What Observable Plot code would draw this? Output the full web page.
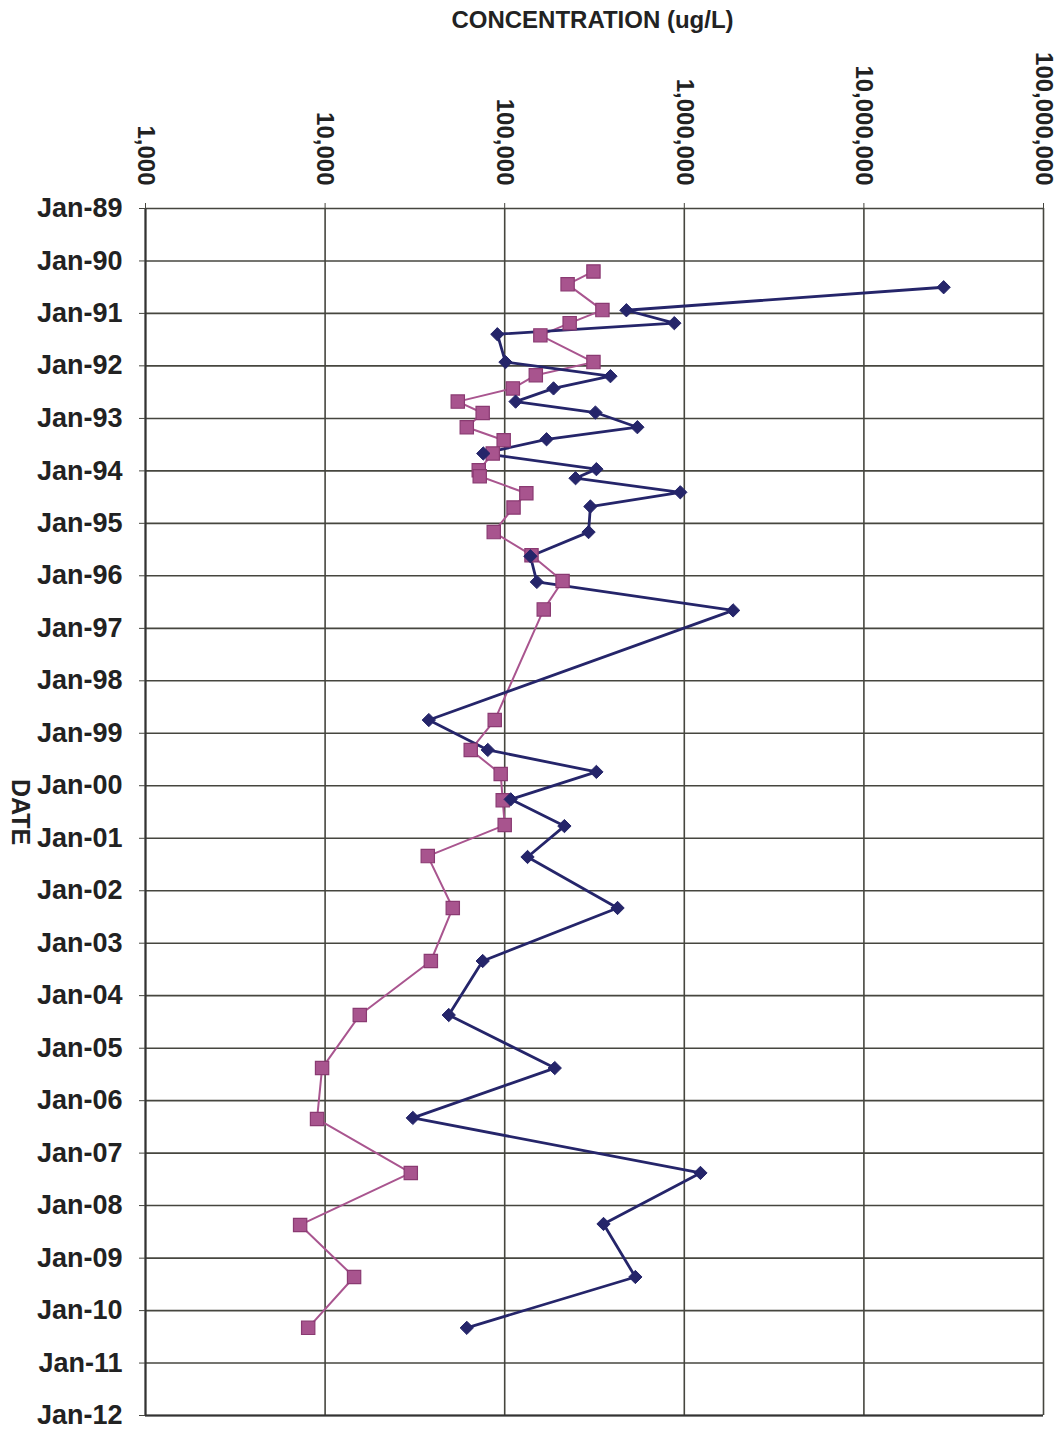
<!DOCTYPE html>
<html>
<head>
<meta charset="utf-8">
<script src="https://cdn.jsdelivr.net/npm/d3@7"></script>
<script src="https://cdn.jsdelivr.net/npm/@observablehq/plot@0.6"></script>
<style>
  html, body { margin: 0; padding: 0; background: #ffffff; }
  #chart svg { display: block; }
</style>
</head>
<body>
<div id="chart"></div>
<script>
// ---- Data ----
const xTicks = [1e3, 1e4, 1e5, 1e6, 1e7, 1e8];
const yTickYears = [1989,1990,1991,1992,1993,1994,1995,1996,1997,1998,1999,2000,2001,2002,2003,2004,2005,2006,2007,2008,2009,2010,2011,2012];

// Series 1 (navy, diamonds)
const navyDates = ["1990-07-03","1990-12-10","1991-03-10","1991-05-26","1991-12-06","1992-03-13","1992-06-06","1992-09-06","1992-11-21","1993-03-03","1993-05-26","1993-09-02","1993-12-20","1994-02-21","1994-05-30","1994-09-06","1995-03-03","1995-08-18","1996-02-13","1996-08-29","1998-10-01","1999-04-27","1999-09-27","2000-04-05","2000-10-08","2001-05-11","2002-05-01","2003-05-05","2004-05-15","2005-05-19","2006-05-01","2007-05-19","2008-05-08","2009-05-12","2010-05-01"];
const navyValues = [27800000,476000,880000,91000,101000,388000,187000,115000,320000,548000,171000,76000,324000,248000,950000,300000,293000,139000,151000,1870000,37800,80500,324000,108000,215000,134000,425000,75400,48800,190000,30800,1230000,355000,534000,61500];

// Series 2 (magenta, squares)
const pinkDates = ["1990-03-15","1990-06-13","1990-12-09","1991-03-10","1991-06-03","1991-12-06","1992-03-06","1992-06-06","1992-09-06","1992-11-24","1993-03-03","1993-06-02","1993-09-02","1993-12-28","1994-02-07","1994-06-06","1994-09-13","1995-03-03","1995-08-11","1996-02-06","1996-08-22","1998-10-01","1999-04-27","1999-10-12","2000-04-12","2000-10-01","2001-05-05","2002-05-01","2003-05-05","2004-05-15","2005-05-19","2006-05-08","2007-05-19","2008-05-15","2009-05-12","2010-05-01"];
const pinkValues = [312000,224000,350000,230000,158000,312000,149000,111000,54800,75400,61500,98700,85800,71700,72600,132000,112000,86900,141000,210000,165000,88000,64700,95000,97500,100000,37300,51400,38800,15600,9620,9020,30000,7260,14500,8050];

const xLabel = "CONCENTRATION (ug/L)";
const yLabel = "DATE";

// ---- Build tables ----
const parse = d3.utcParse("%Y-%m-%d");
const navy = navyDates.map((d, i) => ({date: parse(d), value: navyValues[i]}));
const pink = pinkDates.map((d, i) => ({date: parse(d), value: pinkValues[i]}));
const yTicks = yTickYears.map(y => new Date(Date.UTC(y, 0, 1)));

const gridColor = "#46463f";
const navyColor = "#25256a";
const pinkLine = "#a9558f";
const pinkFill = "#a8548e";
const pinkStroke = "#8a3a72";

const chart = Plot.plot({
  width: 1061,
  height: 1430,
  marginLeft: 145,
  marginRight: 18,
  marginTop: 208,
  marginBottom: 15,
  style: {fontFamily: "'Liberation Sans', Arial, sans-serif", fontWeight: "bold", fontSize: "24px", color: "#222", background: "#ffffff"},
  x: {type: "log", domain: [1e3, 1e8]},
  y: {type: "utc", domain: [yTicks[0], yTicks[yTicks.length - 1]], reverse: true},
  marks: [
    Plot.gridX(xTicks, {stroke: gridColor, strokeOpacity: 1, strokeWidth: 1.6}),
    Plot.gridY(yTicks, {stroke: gridColor, strokeOpacity: 1, strokeWidth: 1.6}),
    Plot.ruleX([1e3], {stroke: "#333", strokeWidth: 2}),
    Plot.ruleY([yTicks[yTicks.length - 1]], {stroke: "#333", strokeWidth: 2}),
    Plot.axisX({anchor: "top", ticks: xTicks, tickFormat: d3.format(","), tickRotate: 90, tickSize: 6, tickPadding: 17, label: null, stroke: gridColor, fill: "#222"}),
    Plot.axisY({anchor: "left", ticks: yTicks, tickFormat: d3.utcFormat("%b-%y"), tickSize: 6, tickPadding: 17, label: null, stroke: gridColor, fill: "#222", fontSize: 27}),
    Plot.text([xLabel], {frameAnchor: "top", dx: -2, dy: -198, fontSize: 24, fontWeight: "bold", fill: "#222"}),
    Plot.text([yLabel], {frameAnchor: "left", dx: -126, rotate: 90, textAnchor: "middle", fontSize: 25, fontWeight: "bold", fill: "#222"}),
    Plot.line(pink, {x: "value", y: "date", stroke: pinkLine, strokeWidth: 2}),
    Plot.line(navy, {x: "value", y: "date", stroke: navyColor, strokeWidth: 2.8}),
    Plot.dot(pink, {x: "value", y: "date", symbol: "square", r: 7.5, fill: pinkFill, stroke: pinkStroke, strokeWidth: 1.2}),
    Plot.dot(navy, {x: "value", y: "date", symbol: "diamond2", r: 6, fill: navyColor, stroke: navyColor, strokeWidth: 1})
  ]
});
document.getElementById("chart").appendChild(chart);
</script>
</body>
</html>
